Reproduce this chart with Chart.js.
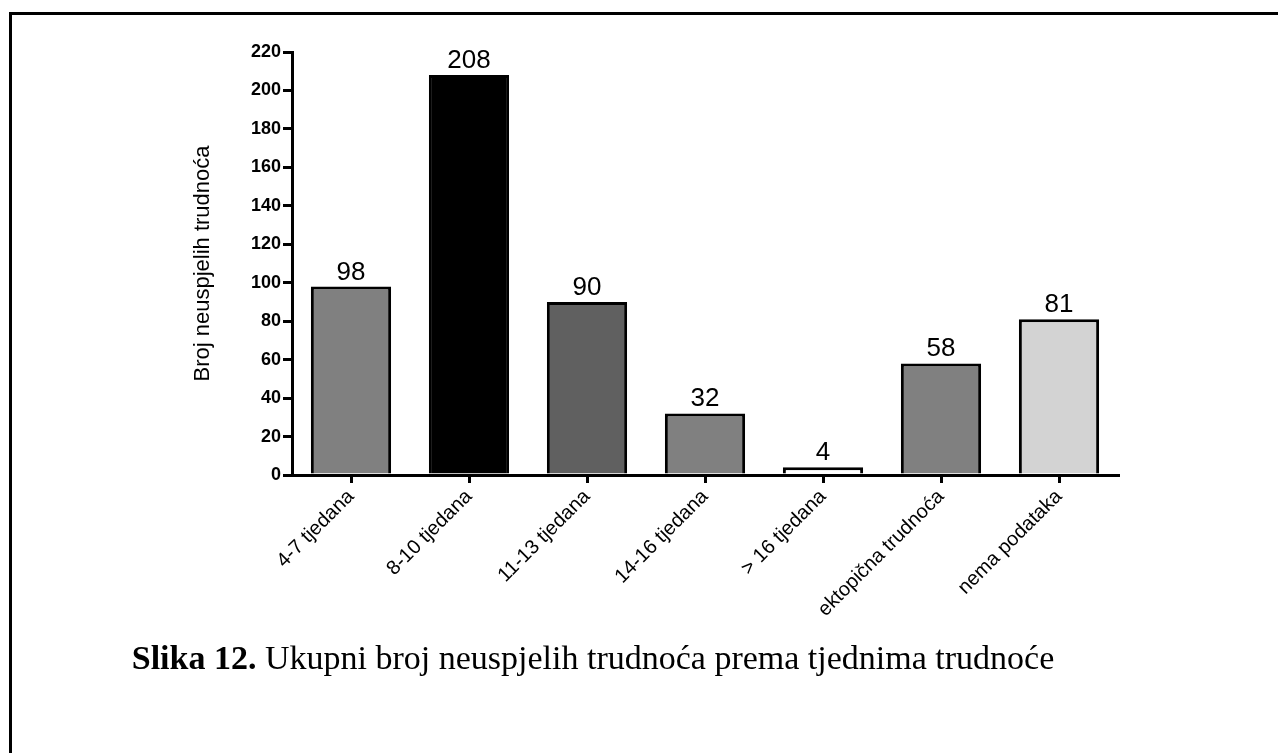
<!DOCTYPE html>
<html>
<head>
<meta charset="utf-8">
<script src="https://cdn.jsdelivr.net/npm/chart.js@4.4.0/dist/chart.umd.min.js"></script>
<style>
	body { margin: 0; background: #fff; width: 1278px; height: 753px; overflow: hidden; position: relative; }
	#frame { position: absolute; left: 9px; top: 12px; width: 1300px; height: 800px; border-top: 3px solid #000; border-left: 3px solid #000; }
	#CanvasMiscarriages { position: absolute; left: 0; top: 0; }
	#caption { position: absolute; left: 0; width: 1186px; top: 639px; text-align: center; font-family: "Liberation Serif", "Times New Roman", serif; font-size: 34px; color: #000; white-space: nowrap; }
</style>
</head>
<body>
<div id="frame"></div>
<canvas id="CanvasMiscarriages" width="1278" height="753"></canvas>
<div id="caption"><b>Slika 12.</b> Ukupni broj neuspjelih trudnoća prema tjednima trudnoće</div>
<script>
var categories = ['4-7 tjedana', '8-10 tjedana', '11-13 tjedana', '14-16 tjedana', '> 16 tjedana', 'ektopična trudnoća', 'nema podataka'];
var counts = [98, 208, 90, 32, 4, 58, 81];
var barColors = ['#808080', '#000000', '#606060', '#808080', '#ffffff', '#808080', '#d3d3d3'];
var yTicks = [0, 20, 40, 60, 80, 100, 120, 140, 160, 180, 200, 220];

// draws the number above each bar
var valueLabels = {
	id: 'valueLabels',
	afterDatasetsDraw: function (chart) {
		var ctx = chart.ctx;
		var meta = chart.getDatasetMeta(0);
		ctx.save();
		ctx.font = '26px "Liberation Sans", Arial, sans-serif';
		ctx.fillStyle = '#000';
		ctx.textAlign = 'center';
		ctx.textBaseline = 'alphabetic';
		meta.data.forEach(function (bar, i) {
			ctx.fillText(counts[i], bar.x, bar.y - 7);
		});
		ctx.restore();
	}
};

const context = document.getElementById('CanvasMiscarriages');
const myChart = new Chart(context, {
	type: 'bar',
	data: {
		labels: categories,
		datasets: [{
			data: counts,
			backgroundColor: barColors,
			borderColor: '#000',
			borderWidth: 3,
			barPercentage: 0.68,
			categoryPercentage: 1
		}]
	},
	options: {
		responsive: false,
		animation: false,
		devicePixelRatio: 1,
		layout: { padding: { left: 190, top: 52, right: 160, bottom: 128 } },
		plugins: { legend: { display: false }, tooltip: { enabled: false } },
		scales: {
			x: {
				offset: true,
				afterFit: function (scale) { scale.height = 150; },
				border: { color: '#000', width: 3 },
				grid: { drawOnChartArea: false, color: '#000', lineWidth: 3, tickLength: 8, offset: false },
				ticks: {
					color: '#000',
					minRotation: 45,
					maxRotation: 45,
					padding: 2,
					font: { family: '"Liberation Sans", Arial, sans-serif', size: 20 }
				}
			},
			y: {
				min: 0,
				max: 220,
				afterFit: function (scale) { scale.width = 102; },
				afterBuildTicks: function (scale) { scale.ticks = yTicks.map(function (v) { return { value: v }; }); },
				border: { color: '#000', width: 3 },
				grid: { drawOnChartArea: false, color: '#000', lineWidth: 3, tickLength: 9 },
				title: {
					display: true,
					text: 'Broj neuspjelih trudnoća',
					color: '#000',
					padding: 0,
					font: { family: '"Liberation Sans", Arial, sans-serif', size: 22 }
				},
				ticks: {
					color: '#000',
					padding: 2,
					font: { family: '"Liberation Sans", Arial, sans-serif', size: 18, weight: 'bold' }
				}
			}
		}
	},
	plugins: [valueLabels]
});
</script>
</body>
</html>
